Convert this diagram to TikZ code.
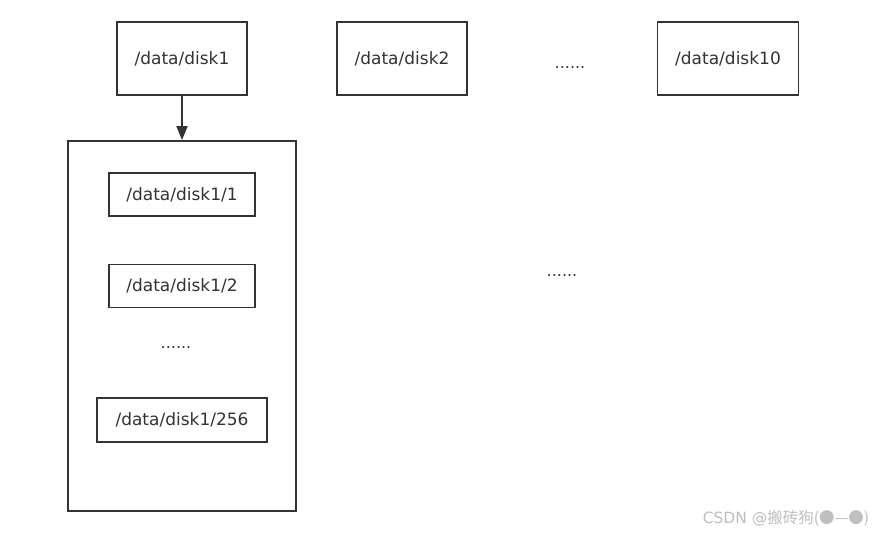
\documentclass[tikz,border=0pt]{standalone}
\usepackage{fontspec}
\setmainfont{DejaVu Sans}
\newfontfamily\cjk{Noto Sans CJK SC}
\usetikzlibrary{arrows.meta}
\definecolor{linha}{HTML}{333333}
\tikzset{
	caixa/.style={draw=linha, line width=1.8pt, text=linha, inner sep=0pt, font=\fontsize{17}{20}\selectfont},
	pontos/.style={text=linha, font=\fontsize{16}{20}\selectfont}
}
\begin{document}
\begin{tikzpicture}[x=1pt, y=-1pt]
	\useasboundingbox[fill=white] (0,0) rectangle (876,533);

% discos
	\node[caixa, minimum width=130pt, minimum height=73pt] (disk1) at (182,58.5) {/data/disk1};
	\node[caixa, minimum width=130pt, minimum height=73pt] (disk2) at (402,58.5) {/data/disk2};
	\node[pontos] (dotsA) at (570,68) {......};
	\node[caixa, minimum width=141pt, minimum height=73pt] (disk10) at (728,58.5) {/data/disk10};

% subpastas do disk1
	\node[caixa, minimum width=228pt, minimum height=370pt] (pasta) at (182,326) {};
	\node[caixa, minimum width=146pt, minimum height=43pt] (sub1) at (182,194.5) {/data/disk1/1};
	\node[caixa, minimum width=146pt, minimum height=43pt] (sub2) at (182,286) {/data/disk1/2};
	\node[pontos] (dotsB) at (176,348) {......};
	\node[caixa, minimum width=170pt, minimum height=44pt] (sub256) at (182,420) {/data/disk1/256};
	\draw[linha, line width=1.8pt, -{Triangle[length=14pt, width=11pt]}] (disk1.south) -- (pasta.north);

	\node[pontos] (dotsC) at (562,276) {......};

% marca
	\node[text=black!25, font=\fontsize{15.5}{18}\selectfont] (marca) at (786,518) {CSDN @{\cjk 搬砖狗(●—●)}};
\end{tikzpicture}
\end{document}
